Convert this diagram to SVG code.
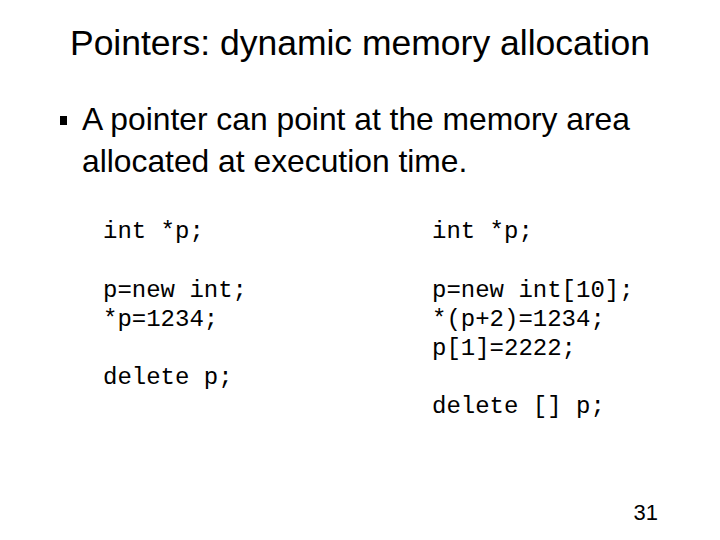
<svg xmlns="http://www.w3.org/2000/svg" width="720" height="540" viewBox="0 0 720 540">
<style>
.t{font-family:"Liberation Sans",Arial,sans-serif;fill:#000}
.c{font-family:"Liberation Mono","Courier New",monospace;font-size:24px;fill:#000}
</style>
<rect width="720" height="540" fill="#fff"/>
<text class="t" x="360" y="55" font-size="35.5" text-anchor="middle">Pointers: dynamic memory allocation</text>
<rect x="60" y="116" width="7" height="9" fill="#000"/>
<text class="t" x="82" y="130" font-size="31.8">A pointer can point at the memory area</text>
<text class="t" x="82" y="172" font-size="31.8">allocated at execution time.</text>
<text class="c" x="103" y="238">int *p;</text>
<text class="c" x="103" y="297">p=new int;</text>
<text class="c" x="103" y="326">*p=1234;</text>
<text class="c" x="103" y="384">delete p;</text>
<text class="c" x="432" y="238">int *p;</text>
<text class="c" x="432" y="297">p=new int[10];</text>
<text class="c" x="432" y="326">*(p+2)=1234;</text>
<text class="c" x="432" y="355">p[1]=2222;</text>
<text class="c" x="432" y="413">delete [] p;</text>
<text class="t" x="658" y="520" font-size="22" text-anchor="end">31</text>
</svg>
